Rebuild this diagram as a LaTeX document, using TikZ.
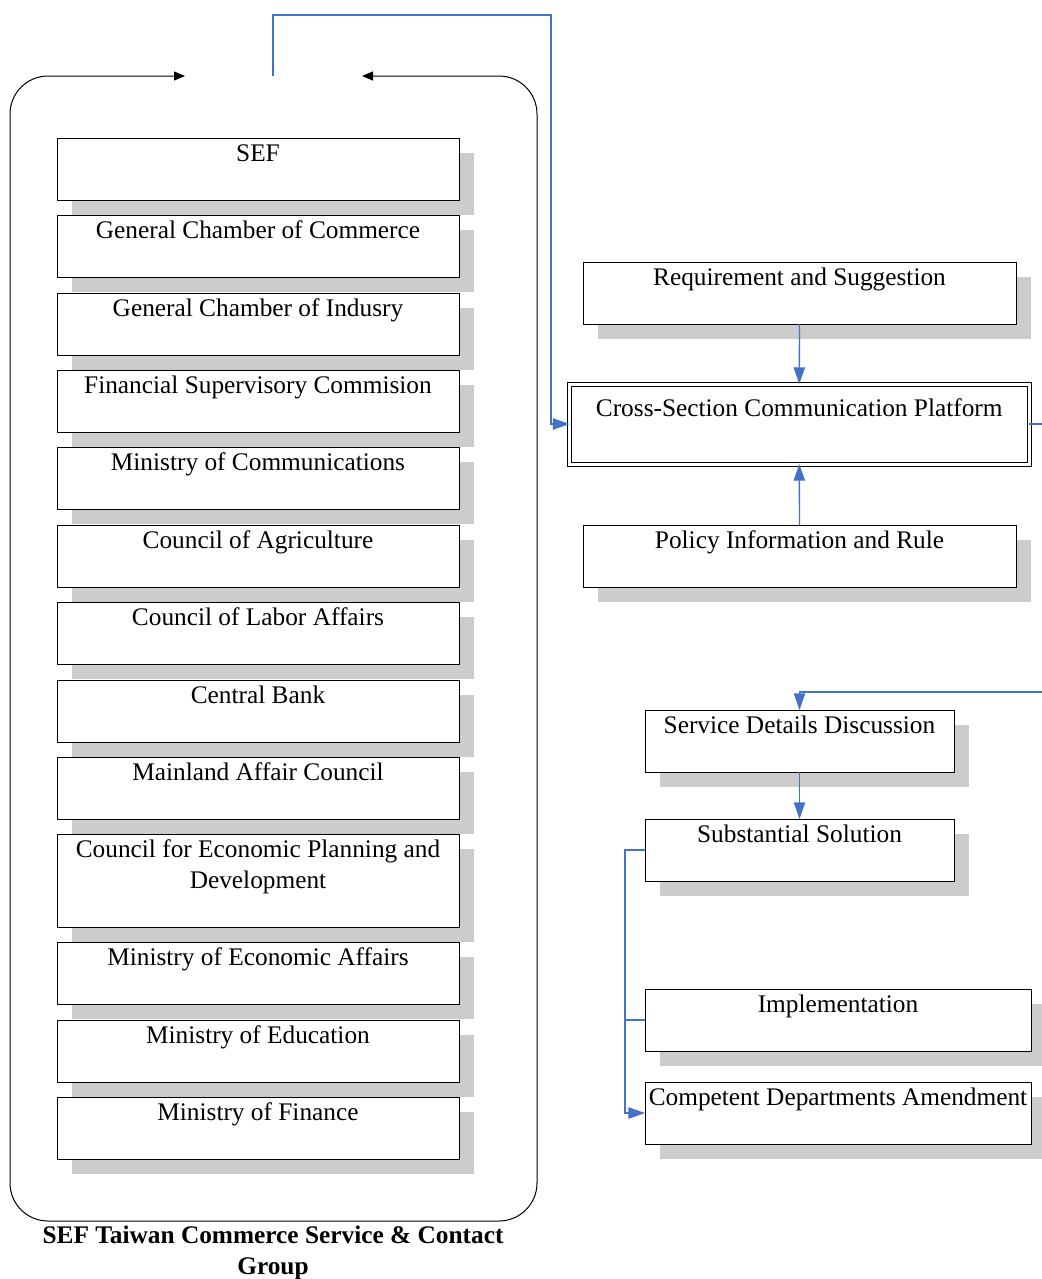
\documentclass[tikz,border=0pt]{standalone}
\usepackage{fontspec}
\setmainfont{Liberation Serif}
\usetikzlibrary{arrows.meta,shadows}
\definecolor{lnblue}{HTML}{4472C4}
\definecolor{shgray}{HTML}{CCCCCC}
\newcommand{\boxtxt}[4]{\parbox[c][\dimexpr #2pt*3/4\relax][t]{\dimexpr #1pt*3/4\relax}{\centering\rule{0pt}{#3}#4}}
\tikzset{
  txtfont/.style={font=\fontsize{19}{23.25}\selectfont},
  orgbox/.style={draw=black, line width=0.75pt, fill=white, inner sep=0pt, outer sep=0pt,
    anchor=north west, txtfont,
    drop shadow={shadow xshift=11.25pt, shadow yshift=-11.25pt, fill=shgray, opacity=1, draw=none}},
  platbox/.style={draw=black, line width=0.75pt, double, double distance=2.25pt, fill=white,
    inner sep=0pt, outer sep=0pt, anchor=north west, txtfont},
  link/.style={draw=lnblue, line width=1pt},
  arr/.style={link, -{Triangle[length=12.5pt,width=8.5pt]}},
  frame/.style={draw=black, line width=0.75pt, rounded corners=28.5pt,
    {Triangle[length=8.25pt,width=6.75pt]}-{Triangle[length=8.25pt,width=6.75pt]}},
}
\begin{document}
\begin{tikzpicture}[x=0.75pt,y=-0.75pt]
\clip (0,0) rectangle (1042,1279);
\fill[white] (0,0) rectangle (1042,1279);

% outer group frame
\draw[frame] (185,76) -- (10,76) -- (10,1221) -- (537,1221) -- (537,76) -- (362,76);
\coordinate (tp) at (273,76);
\coordinate (tc) at (551,15);

% left column
\node[orgbox] (sef) at (57,138) {\boxtxt{402}{62}{17.75pt}{SEF}};
\node[orgbox] (gcc) at (57,215) {\boxtxt{402}{62}{17.75pt}{General Chamber of Commerce}};
\node[orgbox] (gci) at (57,293) {\boxtxt{402}{62}{17.75pt}{General Chamber of Indusry}};
\node[orgbox] (fsc) at (57,370) {\boxtxt{402}{62}{17.75pt}{Financial Supervisory Commision}};
\node[orgbox] (moc) at (57,447) {\boxtxt{402}{62}{17.75pt}{Ministry of Communications}};
\node[orgbox] (coa) at (57,525) {\boxtxt{402}{62}{17.75pt}{Council of Agriculture}};
\node[orgbox] (cla) at (57,602) {\boxtxt{402}{62}{17.75pt}{Council of Labor Affairs}};
\node[orgbox] (cb)  at (57,680) {\boxtxt{402}{62}{17.75pt}{Central Bank}};
\node[orgbox] (mac) at (57,757) {\boxtxt{402}{62}{17.75pt}{Mainland Affair Council}};
\node[orgbox] (cepd) at (57,834) {\boxtxt{402}{93}{17.75pt}{Council for Economic Planning and\\Development}};
\node[orgbox] (mea) at (57,942) {\boxtxt{402}{62}{17.75pt}{Ministry of Economic Affairs}};
\node[orgbox] (moe) at (57,1020) {\boxtxt{402}{62}{17.75pt}{Ministry of Education}};
\node[orgbox] (mof) at (57,1097) {\boxtxt{402}{62}{17.75pt}{Ministry of Finance}};

\node[font=\bfseries\fontsize{19}{23.25}\selectfont, align=center, inner sep=0pt, anchor=north] (cap) at (273,1226)
  {SEF Taiwan Commerce Service \& Contact\\Group};

% right column
\node[orgbox] (req) at (583,262) {\boxtxt{433}{62}{17.75pt}{Requirement and Suggestion}};
\node[platbox] (plat) at (569.5,384) {\boxtxt{459.5}{80}{24.25pt}{Cross-Section Communication Platform}};
\node[orgbox] (pol) at (583,525) {\boxtxt{433}{62}{17.75pt}{Policy Information and Rule}};
\node[orgbox] (serv) at (645,710) {\boxtxt{309}{62}{17.75pt}{Service Details Discussion}};
\node[orgbox] (subst) at (645,819) {\boxtxt{309}{62}{17.75pt}{Substantial Solution}};
\node[orgbox] (impl) at (645,989) {\boxtxt{386}{62}{17.75pt}{Implementation}};
\node[orgbox] (comp) at (645,1082) {\boxtxt{386}{62}{17.75pt}{Competent Departments Amendment}};

\coordinate (rt) at (1050,692);
\coordinate (br) at (625,850);

% connectors
\draw[arr] (tp) |- (tc) |- (plat.west);
\draw[arr] (req.south) -- (plat.north);
\draw[arr] (pol.north) -- (plat.south);
\draw[arr] (plat.east) -| (rt) -| (serv.north);
\draw[arr] (serv.south) -- (subst.north);
\draw[arr] (subst.west) -- (br) |- (comp.west);
\draw[link] (br |- impl.west) -- (impl.west);
\end{tikzpicture}
\end{document}
